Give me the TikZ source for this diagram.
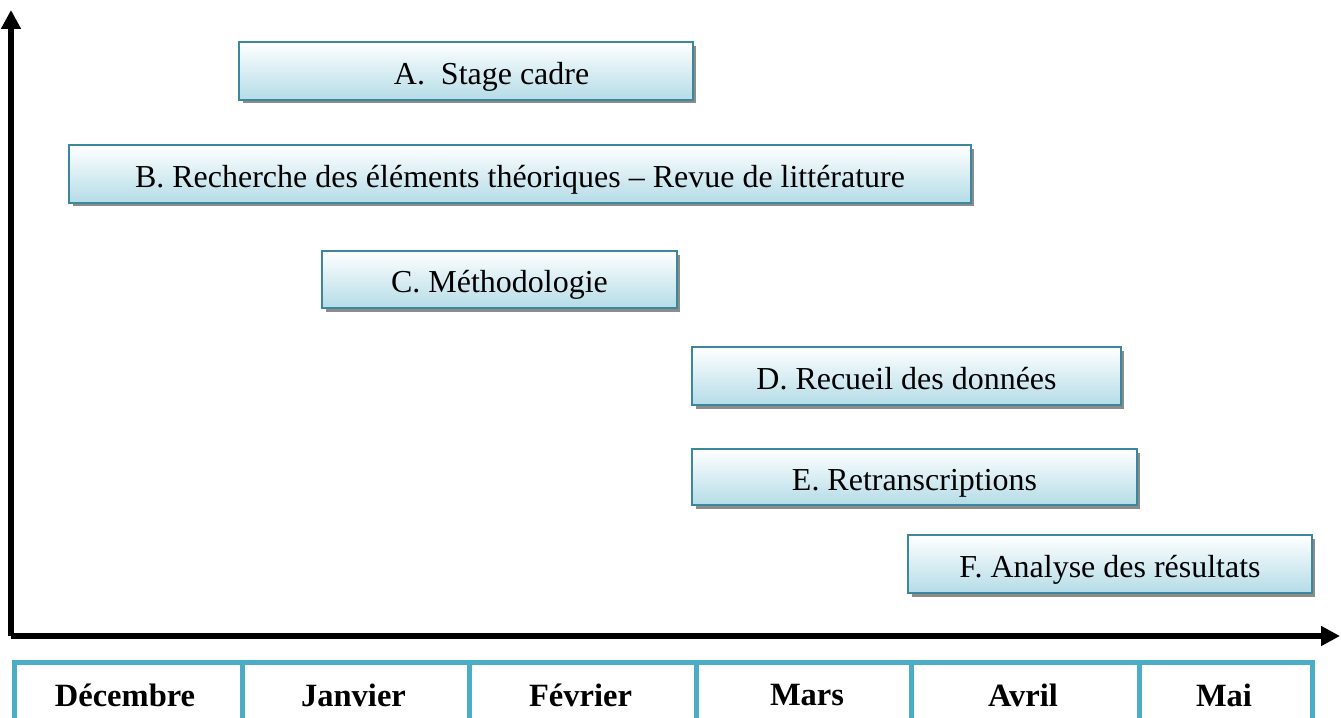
\documentclass[tikz,border=0pt]{standalone}
\usepackage{fontspec}
\setmainfont{Liberation Serif}
\usepackage{xcolor}
\usetikzlibrary{arrows.meta,shadows}
\definecolor{boxline}{HTML}{3B879C}
\definecolor{boxfill}{HTML}{B4DCE7}
\definecolor{cellline}{HTML}{4BACC6}
\tikzset{
  tache/.style={draw=boxline,line width=1.1pt,top color=white,bottom color=boxfill,
    inner sep=0pt,font=\fontsize{18.2}{21}\selectfont,text height=16pt,text depth=1pt,
    drop shadow={shadow xshift=0.07cm,shadow yshift=-0.07cm,fill=black!45,opacity=1}},
  mois/.style={draw=cellline,line width=2.8pt,fill=white,anchor=north west,
    inner sep=0pt},
  axe/.style={line width=2.9pt,-{Triangle[length=0.38cm,width=0.38cm]}}
}
\begin{document}
\begin{tikzpicture}[x=0.02cm,y=-0.02cm]
\useasboundingbox (0,0) rectangle (1341,717);
% axes
\coordinate (O) at (11,636);
\coordinate (haut) at (11,10);
\coordinate (droite) at (1340,636);
\draw[axe] (O)--(haut);
\draw[axe] (O)--(droite);
% taches
\node[tache,minimum width=9.08cm,minimum height=1.16cm] (A) at (466,71) {\hspace{1.6em}A.\ \ Stage cadre};
\node[tache,minimum width=18.04cm,minimum height=1.16cm] (B) at (520,174) {B. Recherche des éléments théoriques -- Revue de littérature};
\node[tache,minimum width=7.1cm,minimum height=1.14cm] (C) at (499.5,279.5) {C. Méthodologie};
\node[tache,minimum width=8.58cm,minimum height=1.16cm] (D) at (906.5,376) {D. Recueil des données};
\node[tache,minimum width=8.9cm,minimum height=1.12cm] (E) at (914.5,477) {E. Retranscriptions};
\node[tache,minimum width=8.08cm,minimum height=1.16cm] (F) at (1110,564) {F. Analyse des résultats};
% mois
\node[mois,minimum width=4.56cm,minimum height=1.7cm] (dec) at (12,660) {};
\node[mois,minimum width=4.54cm,minimum height=1.7cm] (jan) at (240,660) {};
\node[mois,minimum width=4.54cm,minimum height=1.7cm] (fev) at (467,660) {};
\node[mois,minimum width=4.3cm,minimum height=1.7cm] (mar) at (694,660) {};
\node[mois,minimum width=4.56cm,minimum height=1.7cm] (avr) at (909,660) {};
\node[mois,minimum width=3.46cm,minimum height=1.7cm] (mai) at (1137,660) {};
\foreach \n/\t/\x in {dec/Décembre/125,jan/Janvier/353.5,fev/Février/580.5,mar/Mars/807,avr/Avril/1023,mai/Mai/1224}
  \node[font=\bfseries\fontsize{18.5}{21}\selectfont] (\n-t) at (\x,695) {\t};
\end{tikzpicture}
\end{document}
